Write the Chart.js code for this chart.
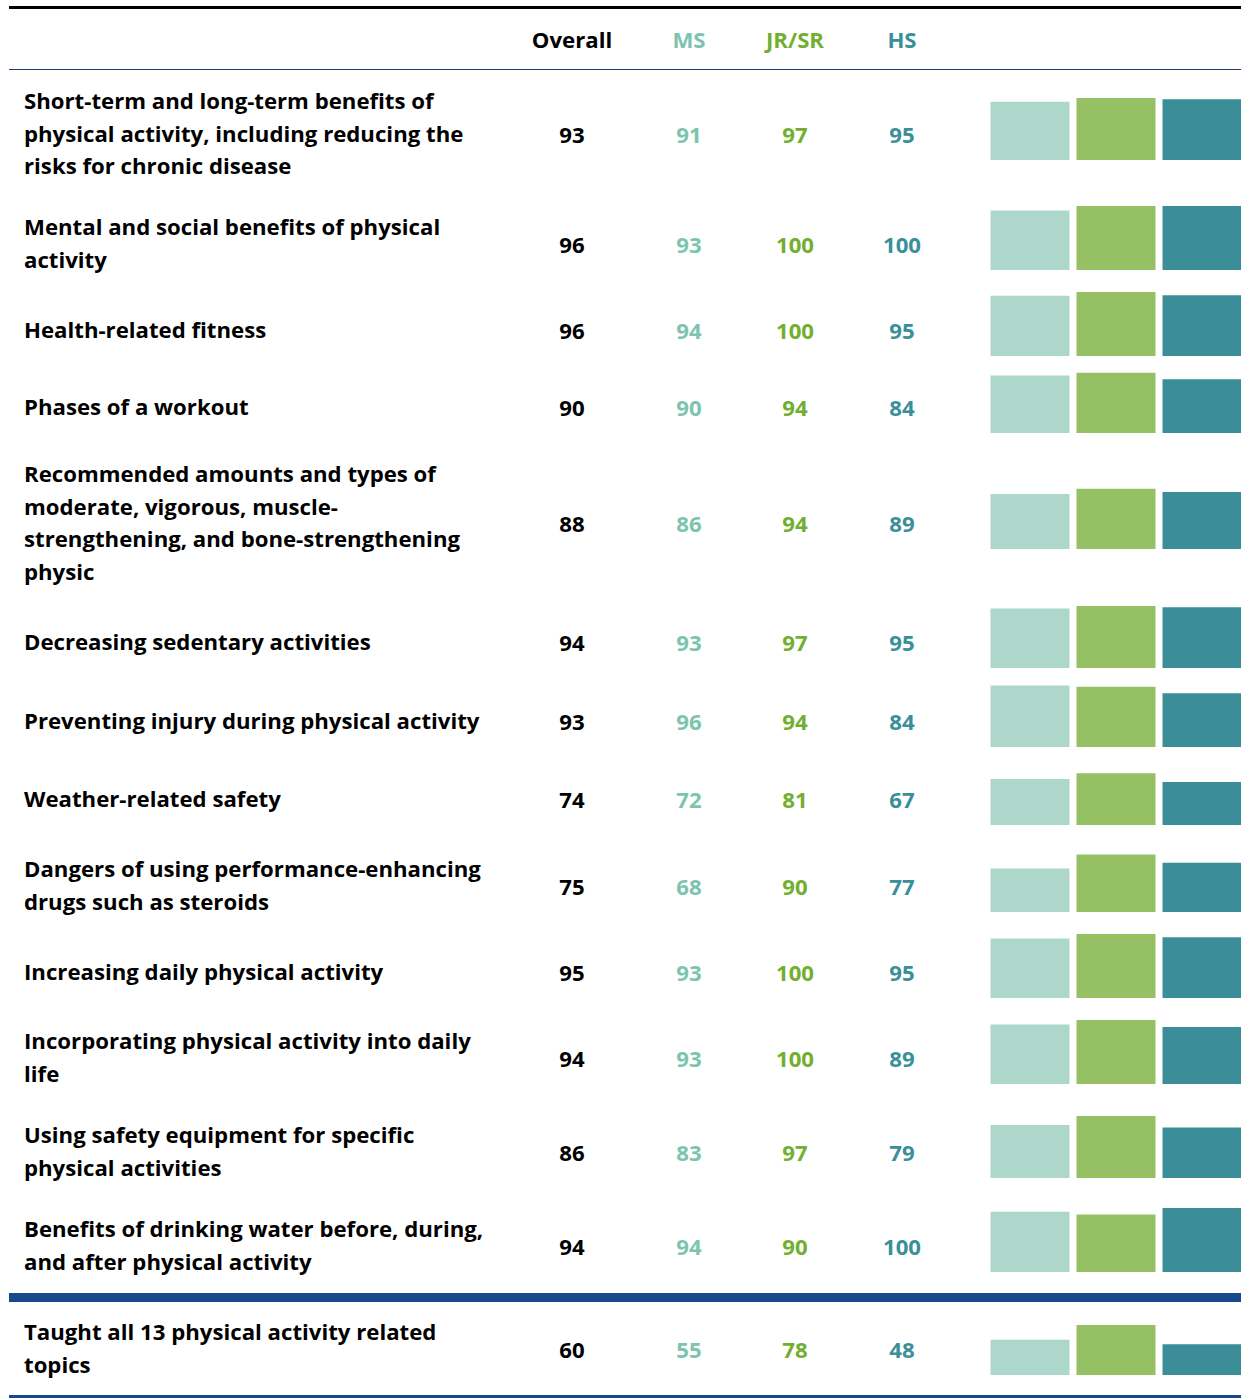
<!DOCTYPE html>
<html><head><meta charset="utf-8">
<script src="https://cdn.jsdelivr.net/npm/chart.js@4/dist/chart.umd.min.js"></script>
<style>
html,body{margin:0;padding:0;background:#fff;width:1241px;height:1398px;overflow:hidden;position:relative;font-family:"Open Sans",Lato,sans-serif;font-weight:700;}
.lbl{position:absolute;left:24px;line-height:32.6px;color:#000;white-space:nowrap;transform:translateY(-50%);}
.num{position:absolute;width:120px;text-align:center;line-height:33px;transform:translate(-50%,-50%);}
.hr{position:absolute;left:9px;right:0;}
canvas{position:absolute;}
</style></head><body>
<div class="hr" style="top:6px;height:3px;background:#000"></div>
<div class="hr" style="top:69px;height:1px;background:#1f3f73"></div>
<div class="hr" style="top:1293px;height:9px;background:#164a8c"></div>
<div class="hr" style="top:1395px;height:4px;background:#164a8c"></div>
<script>
const topics = [
  "Short-term and long-term benefits of\nphysical activity, including reducing the\nrisks for chronic disease",
  "Mental and social benefits of physical\nactivity",
  "Health-related fitness",
  "Phases of a workout",
  "Recommended amounts and types of\nmoderate, vigorous, muscle-\nstrengthening, and bone-strengthening\nphysic",
  "Decreasing sedentary activities",
  "Preventing injury during physical activity",
  "Weather-related safety",
  "Dangers of using performance-enhancing\ndrugs such as steroids",
  "Increasing daily physical activity",
  "Incorporating physical activity into daily\nlife",
  "Using safety equipment for specific\nphysical activities",
  "Benefits of drinking water before, during,\nand after physical activity",
  "Taught all 13 physical activity related\ntopics"
];
const columnLabels = ["Overall", "MS", "JR/SR", "HS"];
const overall = [93, 96, 96, 90, 88, 94, 93, 74, 75, 95, 94, 86, 94, 60];
const ms      = [91, 93, 94, 90, 86, 93, 96, 72, 68, 93, 93, 83, 94, 55];
const jrsr    = [97, 100, 100, 94, 94, 97, 94, 81, 90, 100, 100, 97, 90, 78];
const hs      = [95, 100, 95, 84, 89, 95, 84, 67, 77, 95, 89, 79, 100, 48];

// layout (not data)
const rowCenters = [135, 245, 331, 408, 524, 643, 722, 800, 887, 973, 1059, 1153, 1247, 1350];
const colX = [572, 689, 795, 902];
const textColors = ["#000000", "#7cc4af", "#72ae2f", "#3a8f98"];
const barColors = ["#acd7ca", "#95c064", "#3b8e97"];
const headerY = 40;

// fit font size so the first label line spans the reference width (410px)
const mc = document.createElement('canvas').getContext('2d');
mc.font = '700 100px "Open Sans"';
const w100 = mc.measureText("Short-term and long-term benefits of").width;
const fs = Math.round(100 * 410 / w100 * 10) / 10;
const numFs = fs;

function addText(cls, txt, x, y, color, size) {
  const d = document.createElement('div');
  d.className = cls;
  d.style.top = (y - 1) + 'px';
  d.style.fontSize = size + 'px';
  if (cls === 'num') d.style.left = x + 'px';
  d.style.color = color;
  d.innerHTML = txt.split('\n').map(s => s.replace(/&/g,'&amp;').replace(/</g,'&lt;')).join('<br>');
  document.body.appendChild(d);
}

columnLabels.forEach((c, i) => addText('num', c, colX[i], headerY, textColors[i], numFs));

const cols = [overall, ms, jrsr, hs];
topics.forEach((t, r) => {
  const cy = rowCenters[r];
  addText('lbl', t, 0, cy, '#000', fs);
  cols.forEach((arr, i) => addText('num', String(arr[r]), colX[i], cy, textColors[i], numFs));

  const cv = document.createElement('canvas');
  cv.width = 258; cv.height = 64;
  cv.style.left = '987px';
  cv.style.top = (cy + 25 - 64) + 'px';
  cv.style.width = '258px'; cv.style.height = '64px';
  document.body.appendChild(cv);
  new Chart(cv.getContext('2d'), {
    type: 'bar',
    data: {
      labels: columnLabels.slice(1),
      datasets: [{
        data: [ms[r], jrsr[r], hs[r]],
        backgroundColor: barColors,
        borderWidth: 0,
        barPercentage: 79 / 86,
        categoryPercentage: 1
      }]
    },
    options: {
      responsive: false,
      animation: false,
      devicePixelRatio: 1,
      layout: { padding: 0 },
      plugins: { legend: { display: false }, tooltip: { enabled: false } },
      scales: {
        x: { display: false, offset: true },
        y: { display: false, min: 0, max: 100 }
      }
    }
  });
});
</script>
</body></html>
